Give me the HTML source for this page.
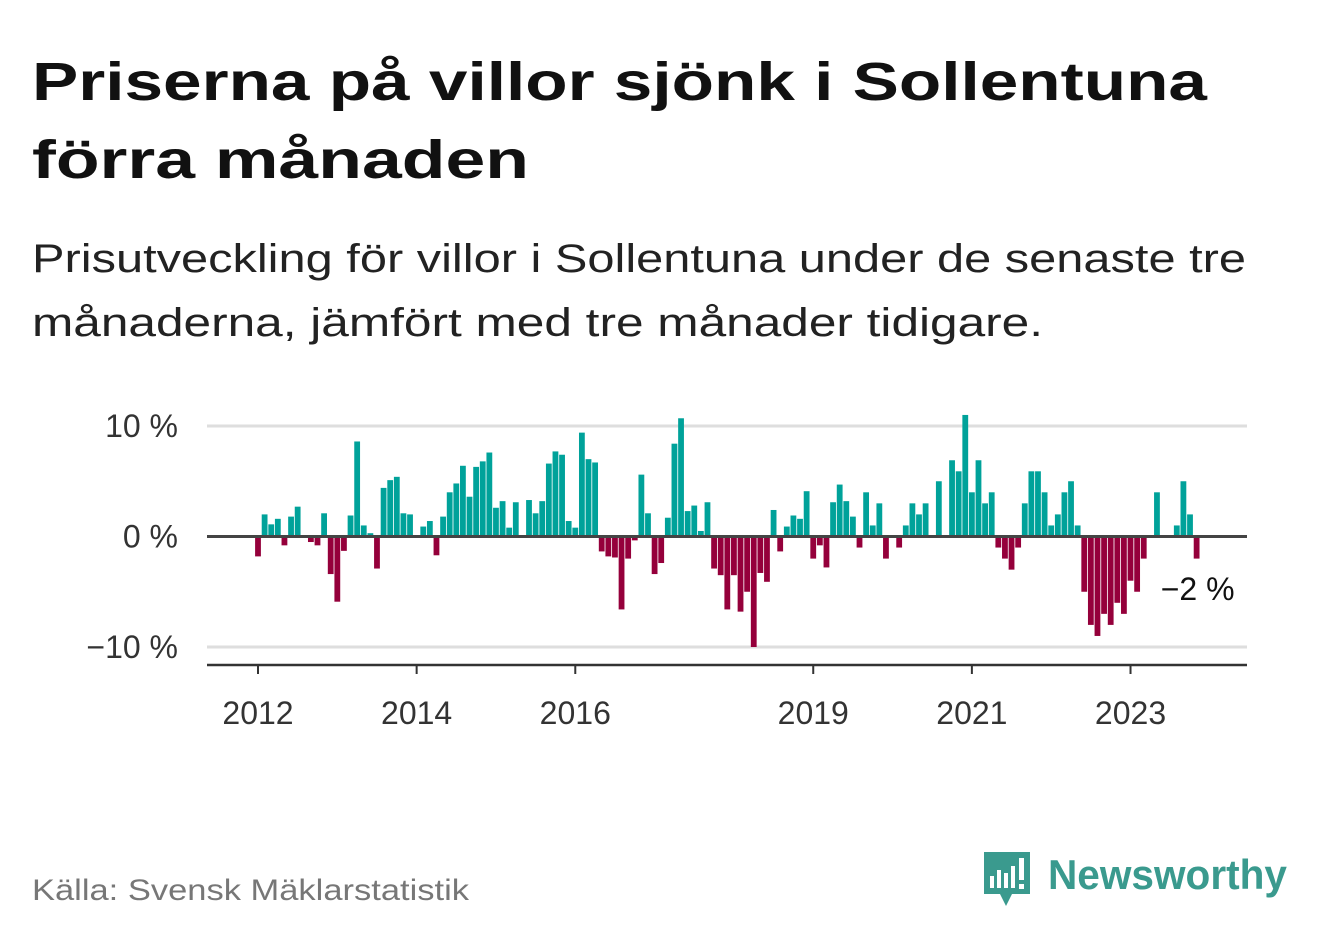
<!DOCTYPE html>
<html><head><meta charset="utf-8"><style>
html,body{margin:0;padding:0;background:#fff;}
svg{display:block;font-family:"Liberation Sans",sans-serif;}
</style></head><body>
<svg id="chart" width="1322" height="939" viewBox="0 0 1322 939" xmlns="http://www.w3.org/2000/svg">
<text x="32" y="100" font-size="54" font-weight="bold" fill="#111" textLength="1175" lengthAdjust="spacingAndGlyphs">Priserna på villor sjönk i Sollentuna</text>
<text x="32" y="178" font-size="54" font-weight="bold" fill="#111" textLength="497" lengthAdjust="spacingAndGlyphs">förra månaden</text>
<text x="32" y="272" font-size="40" fill="#222" textLength="1214" lengthAdjust="spacingAndGlyphs">Prisutveckling för villor i Sollentuna under de senaste tre</text>
<text x="32" y="336" font-size="40" fill="#222" textLength="1011" lengthAdjust="spacingAndGlyphs">månaderna, jämfört med tre månader tidigare.</text>
<g id="plot"></g>
<text x="32" y="900" font-size="30" fill="#777" textLength="437" lengthAdjust="spacingAndGlyphs">Källa: Svensk Mäklarstatistik</text>
<g>
<path d="M984 852 h46 v42 h-18 l-6 12 l-6 -12 h-16 z" fill="#3a9a8e"/>
<rect x="990" y="876" width="4" height="12" fill="#fff"/><rect x="997" y="870" width="4" height="18" fill="#fff"/><rect x="1004" y="873" width="4" height="15" fill="#fff"/><rect x="1011" y="866" width="4" height="22" fill="#fff"/><rect x="1019" y="858" width="5" height="22" fill="#fff"/><rect x="1019" y="884" width="5" height="5" fill="#fff"/>
<text x="1048" y="889" font-size="42" font-weight="bold" fill="#3a9a8e" textLength="239" lengthAdjust="spacingAndGlyphs">Newsworthy</text>
</g>
</svg>
<script>
const values = [-1.8,2.0,1.1,1.6,-0.8,1.8,2.7,0,-0.5,-0.8,2.1,-3.4,-5.9,-1.3,1.9,8.6,1.0,0.3,-2.9,4.4,5.1,5.4,2.1,2.0,0,0.9,1.4,-1.7,1.8,4.0,4.8,6.4,3.6,6.3,6.8,7.6,2.6,3.2,0.8,3.1,0,3.3,2.1,3.2,6.6,7.7,7.4,1.4,0.8,9.4,7.0,6.7,-1.35,-1.8,-1.9,-6.6,-2.0,-0.35,5.6,2.1,-3.4,-2.4,1.7,8.4,10.7,2.3,2.8,0.5,3.1,-2.9,-3.5,-6.6,-3.5,-6.8,-5.0,-10.0,-3.3,-4.1,2.4,-1.35,0.9,1.9,1.6,4.1,-2.0,-0.8,-2.8,3.1,4.7,3.2,1.8,-1.0,4.0,1.0,3.0,-2.0,0,-1.0,1.0,3.0,2.0,3.0,0,5.0,0,6.9,5.9,11.0,4.0,6.9,3.0,4.0,-1.0,-2.0,-3.0,-1.0,3.0,5.9,5.9,4.0,1.0,2.0,4.0,5.0,1.0,-5.0,-8.0,-9.0,-7.0,-8.0,-6.0,-7.0,-4.0,-5.0,-2.0,0,4.0,0,0,1.0,5.0,2.0,-2.0];
const startYear = 2012;
const xTickYears = [2012,2014,2016,2019,2021,2023];
const yTicks = [10,0,-10];
const yTickLabels = ["10 %","0 %","\u221210 %"];
const lastLabel = "\u22122 %";

const NS="http://www.w3.org/2000/svg";
const g=document.getElementById('plot');
const X0=258, STEP=6.61, Y0=536.5, PX=11.05;
const x=i=>X0+i*STEP;
const y=v=>Y0-v*PX;
function el(t,a){const e=document.createElementNS(NS,t);for(const k in a)e.setAttribute(k,a[k]);g.appendChild(e);return e;}
yTicks.forEach((t,k)=>{
  if(t!==0){const l=el('line',{x1:207,x2:1247,y1:y(t),y2:y(t),stroke:'#dedede','stroke-width':3});
  
  }
  const tx=el('text',{x:178,y:y(t)+11,'font-size':32,fill:'#333','text-anchor':'end'});
  tx.textContent=yTickLabels[k];
  
  
});
values.forEach((v,i)=>{
  if(v===0)return;
  const r=el('rect',{x:x(i)-2.9,width:5.8,y:v>0?y(v):Y0,height:Math.abs(v)*PX,fill:v>0?'#00a29a':'#95003b'});
  
  
});
const z=el('line',{x1:207,x2:1247,y1:Y0,y2:Y0,stroke:'#444','stroke-width':3});


const ax=el('line',{x1:207,x2:1247,y1:665,y2:665,stroke:'#333','stroke-width':2.5});


xTickYears.forEach(yr=>{
  const xi=x((yr-startYear)*12);
  const tk=el('line',{x1:xi,x2:xi,y1:665,y2:674,stroke:'#333','stroke-width':2});
  
  
  const t=el('text',{x:xi,y:724,'font-size':32,fill:'#333','text-anchor':'middle'});
  t.textContent=yr;
  
  
});
const lbl=el('text',{x:x(values.length-1)+1,y:600,'font-size':32,fill:'#111','text-anchor':'middle'});
lbl.textContent=lastLabel;


</script>
</body></html>
